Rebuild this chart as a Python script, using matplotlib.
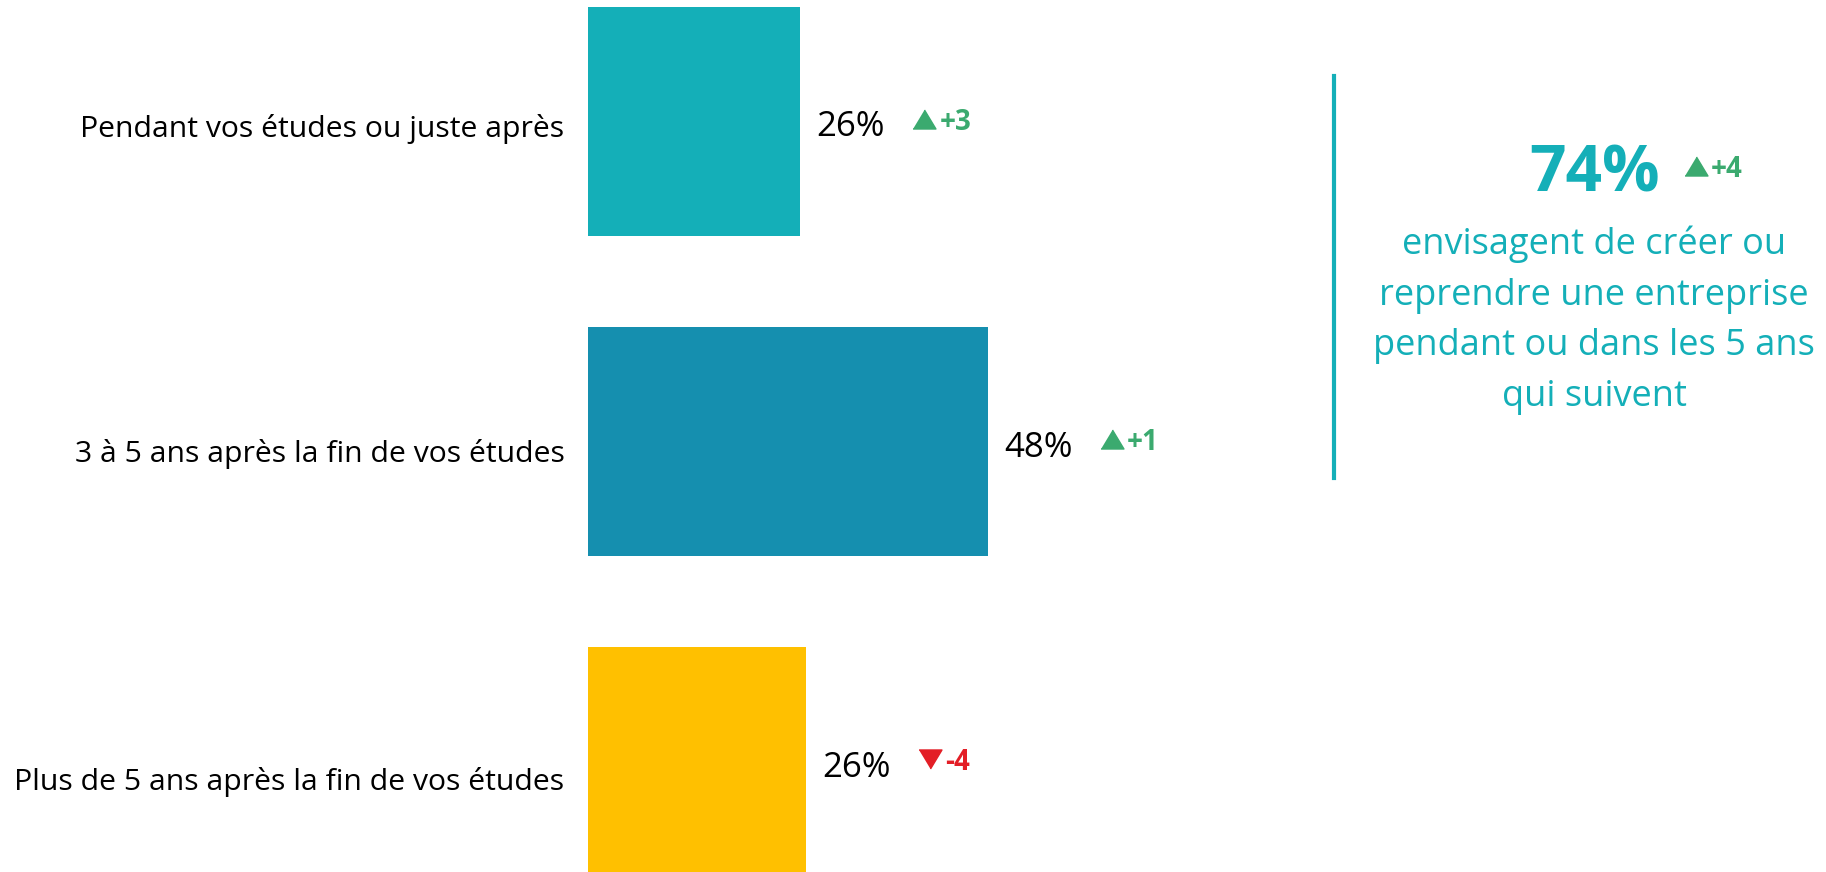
import matplotlib.pyplot as plt
from matplotlib.transforms import offset_copy
from matplotlib.lines import Line2D

plt.rcParams['font.family'] = ['Open Sans', 'DejaVu Sans']

# data
categories = ["Pendant vos études ou juste après",
              "3 à 5 ans après la fin de vos études",
              "Plus de 5 ans après la fin de vos études"]
shares = [25.6, 48.2, 26.3]
changes = [3, 1, -4]
bar_colors = ["#14AFB8", "#158FAF", "#FFC000"]
total_share = 74
total_change = 4
total_text = ["envisagent de créer ou", "reprendre une entreprise",
              "pendant ou dans les 5 ans", "qui suivent"]

teal = "#14AFB8"
up_color = "#3BAA6F"
down_color = "#E31E26"

W, H = 1826, 872
fig = plt.figure(figsize=(W / 100, H / 100), dpi=100)

def fx(px):
    return px / W

def fy(py):
    return 1 - py / H

# bar axes, 0..100 % across 830 px
ax = fig.add_axes([fx(588), 0, fx(830), 1])
ypos = range(len(categories))
ax.barh(ypos, shares, height=0.716, color=bar_colors)
ax.set_xlim(0, 100)
ax.set_ylim(2.344, -0.379)
ax.axis('off')

label_shift = [4, 9, 17]  # px, category labels sit a little lower
for i, cat in enumerate(categories):
    ax.annotate(cat, xy=(0, i), xytext=(-17, -label_shift[i] * 0.72),
                textcoords='offset points', ha='right', va='center_baseline',
                fontsize=21.7, color='black')

tri_up = [(-1, -0.83), (1, -0.83), (0, 0.83)]
tri_down = [(-1, 0.83), (1, 0.83), (0, -0.83)]

for i, (v, d) in enumerate(zip(shares, changes)):
    ax.annotate(f"{v:.0f}%", xy=(v, i), xytext=(11.5, -1.5),
                textcoords='offset points', ha='left', va='center_baseline',
                fontsize=25, color='black')
    col = up_color if d > 0 else down_color
    trans = offset_copy(ax.transData, fig=fig, x=89, y=2, units='points')
    ax.plot(v, i, marker=tri_up if d > 0 else tri_down, ms=16.5,
            color=col, transform=trans, clip_on=False)
    ax.annotate(f"{d:+d}", xy=(v, i), xytext=(100, 2),
                textcoords='offset points', ha='left', va='center_baseline',
                fontsize=20, fontweight='bold', color=col)

# right panel
fig.add_artist(Line2D([fx(1334), fx(1334)], [fy(76), fy(478)],
                      color=teal, lw=3))
fig.text(fx(1595), fy(192), f"{total_share}%", ha='center', va='baseline',
         fontsize=46, fontweight='bold', color=teal)
fig.add_artist(Line2D([fx(1696)], [fy(166)], marker=tri_up, ms=16.5,
                      color=up_color))
fig.text(fx(1711), fy(166), f"{total_change:+d}", ha='left',
         va='center_baseline', fontsize=20, fontweight='bold', color=up_color)
for k, line in enumerate(total_text):
    fig.text(fx(1594), fy(254 + 50.5 * k), line, ha='center', va='baseline',
             fontsize=26, color=teal)

fig.savefig("out.png", dpi=100)
